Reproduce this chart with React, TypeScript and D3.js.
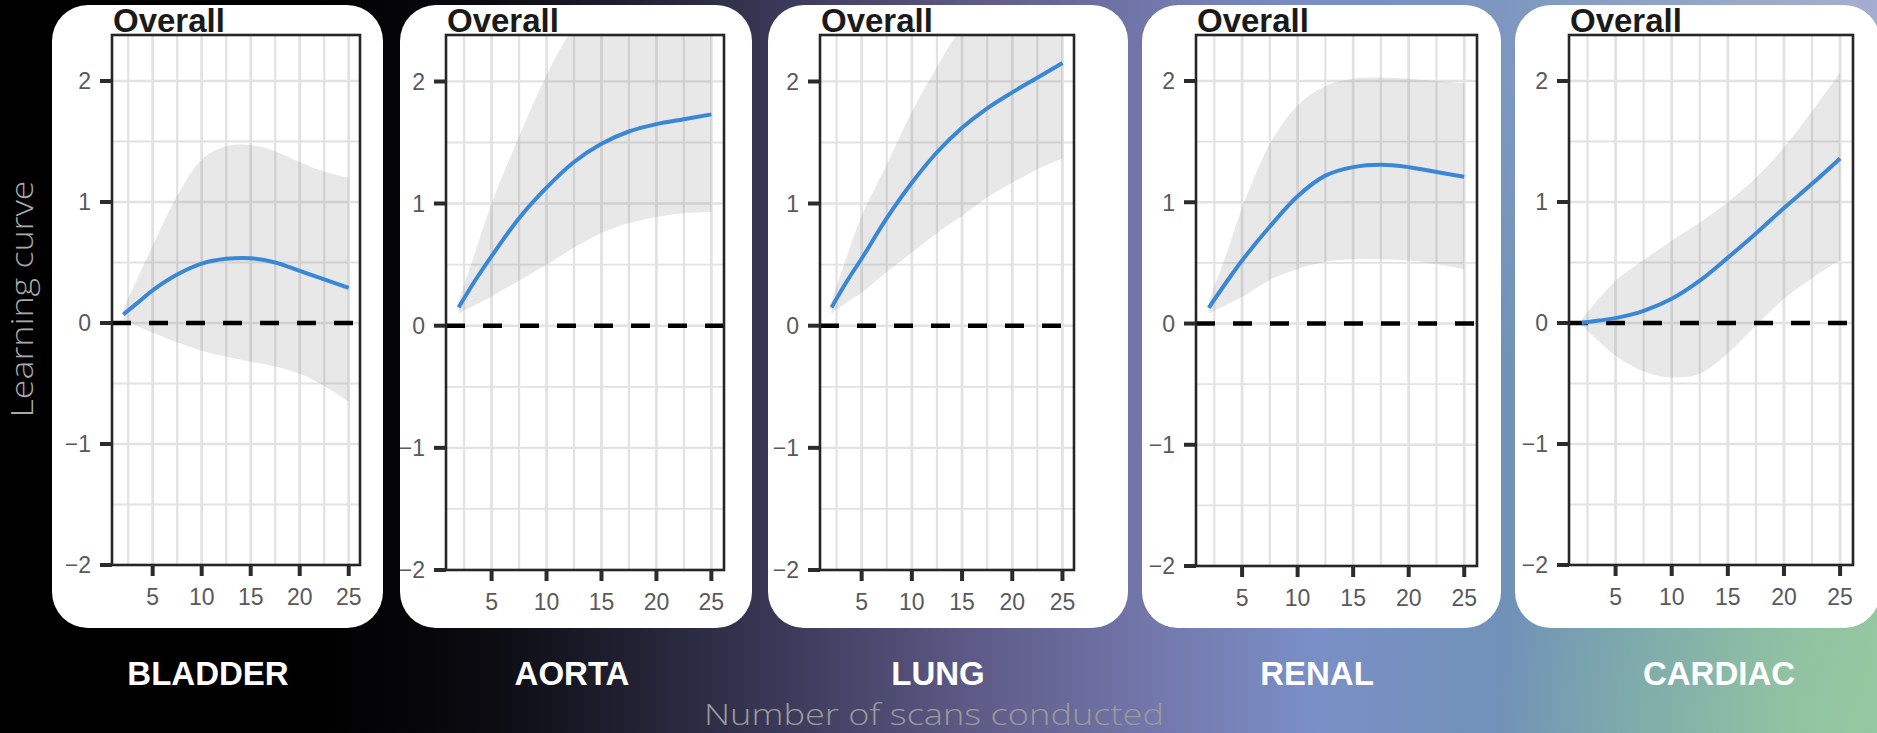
import React from "react";
import * as d3 from "d3";

// ---------- data ----------
const categories = ["BLADDER", "AORTA", "LUNG", "RENAL", "CARDIAC"];
const panelTitle = "Overall";
const xLabel = "Number of scans conducted";
const yLabel = "Learning curve";

const xKnots = [2, 3.5, 5, 7.5, 10, 12.5, 15, 17.5, 20, 22.5, 25];

const bladderFit = [0.07, 0.17, 0.27, 0.4, 0.49, 0.53, 0.535, 0.5, 0.43, 0.36, 0.29];
const bladderLower = [0.03, -0.03, -0.08, -0.16, -0.23, -0.28, -0.32, -0.36, -0.42, -0.52, -0.65];
const bladderUpper = [0.11, 0.38, 0.64, 1.05, 1.35, 1.46, 1.47, 1.42, 1.33, 1.25, 1.2];

const aortaFit = [0.15, 0.37, 0.57, 0.88, 1.13, 1.34, 1.49, 1.59, 1.65, 1.69, 1.73];
const aortaLower = [0.1, 0.17, 0.24, 0.37, 0.5, 0.64, 0.76, 0.84, 0.89, 0.92, 0.93];
const aortaUpper = [0.2, 0.6, 1.0, 1.55, 2.05, 2.45, 2.7, 2.85, 2.95, 3.0, 3.05];

const lungFit = [0.15, 0.36, 0.55, 0.88, 1.17, 1.42, 1.62, 1.78, 1.91, 2.03, 2.15];
const lungLower = [0.1, 0.19, 0.27, 0.44, 0.6, 0.76, 0.9, 1.05, 1.17, 1.28, 1.37];
const lungUpper = [0.2, 0.56, 0.9, 1.32, 1.75, 2.12, 2.45, 2.7, 2.88, 3.0, 3.1];

const renalFit = [0.13, 0.33, 0.52, 0.8, 1.05, 1.22, 1.29, 1.31, 1.29, 1.25, 1.21];
const renalLower = [0.08, 0.15, 0.22, 0.36, 0.45, 0.51, 0.53, 0.53, 0.52, 0.49, 0.45];
const renalUpper = [0.18, 0.55, 0.95, 1.48, 1.8, 1.96, 2.02, 2.03, 2.02, 2.0, 1.98];

const cardiacFit = [0.0, 0.02, 0.04, 0.1, 0.2, 0.35, 0.54, 0.74, 0.95, 1.15, 1.36];
const cardiacLower = [-0.02, -0.15, -0.27, -0.4, -0.45, -0.42, -0.25, -0.02, 0.2, 0.37, 0.52];
const cardiacUpper = [0.03, 0.2, 0.35, 0.52, 0.68, 0.83, 1.0, 1.2, 1.45, 1.75, 2.07];

const fits = [bladderFit, aortaFit, lungFit, renalFit, cardiacFit];
const lowers = [bladderLower, aortaLower, lungLower, renalLower, cardiacLower];
const uppers = [bladderUpper, aortaUpper, lungUpper, renalUpper, cardiacUpper];

const xTicks = [5, 10, 15, 20, 25];
const xMinor = [2.5, 7.5, 12.5, 17.5, 22.5];
const yTicks = [-2, -1, 0, 1, 2];
const yMinor = [-1.5, -0.5, 0.5, 1.5];
const xDomain = [0.85, 26.15];
const yDomain = [-2, 2.38];

// ---------- layout ----------
const W = 1877;
const H = 733;
const layout = [
  { card: [52, 383], plot: [112, 360, 35, 565], labelX: 208 },
  { card: [400, 752], plot: [446, 724, 35, 570], labelX: 572 },
  { card: [768, 1128], plot: [820, 1074, 35, 570], labelX: 938 },
  { card: [1142, 1501], plot: [1196, 1477, 35, 566], labelX: 1317 },
  { card: [1515, 1880], plot: [1569, 1853, 35, 565], labelX: 1719 },
];
const cardTop = 5;
const cardBottom = 628;
const cardR = 36;

function fmt(v: number) {
  return v < 0 ? "\u2212" + Math.abs(v) : String(v);
}

function Panel({ i }: { i: number }) {
  const L = layout[i];
  const [pl, pr, pt, pb] = L.plot;
  const x = d3.scaleLinear().domain(xDomain).range([pl, pr]);
  const y = d3.scaleLinear().domain(yDomain).range([pb, pt]);
  const pts = xKnots.map((k, j) => ({ x: k, f: fits[i][j], lo: lowers[i][j], hi: uppers[i][j] }));
  const curve = d3.curveCatmullRom.alpha(0.5);
  const area = d3
    .area<any>()
    .x((d) => x(d.x))
    .y0((d) => y(d.lo))
    .y1((d) => y(d.hi))
    .curve(curve);
  const line = d3
    .line<any>()
    .x((d) => x(d.x))
    .y((d) => y(d.f))
    .curve(curve);
  const clipCard = `card-${i}`;
  const clipPlot = `plot-${i}`;
  const gridCol = "#e2e2e2";
  const font = "'Liberation Sans', Arial, sans-serif";
  return (
    <g>
      <defs>
        <clipPath id={clipCard}>
          <rect x={L.card[0]} y={cardTop} width={L.card[1] - L.card[0]} height={cardBottom - cardTop} rx={cardR} ry={cardR} />
        </clipPath>
        <clipPath id={clipPlot}>
          <rect x={pl} y={pt} width={pr - pl} height={pb - pt} />
        </clipPath>
      </defs>
      <rect x={L.card[0]} y={cardTop} width={L.card[1] - L.card[0]} height={cardBottom - cardTop} rx={cardR} ry={cardR} fill="#ffffff" />
      <g clipPath={`url(#${clipCard})`}>
        <g clipPath={`url(#${clipPlot})`}>
          {yMinor.map((v) => (
            <line key={"ym" + v} x1={pl} x2={pr} y1={y(v)} y2={y(v)} stroke={gridCol} strokeWidth={1.8} />
          ))}
          {xMinor.map((v) => (
            <line key={"xm" + v} x1={x(v)} x2={x(v)} y1={pt} y2={pb} stroke={gridCol} strokeWidth={2.2} />
          ))}
          {yTicks.map((v) => (
            <line key={"yg" + v} x1={pl} x2={pr} y1={y(v)} y2={y(v)} stroke={gridCol} strokeWidth={2.4} />
          ))}
          {xTicks.map((v) => (
            <line key={"xg" + v} x1={x(v)} x2={x(v)} y1={pt} y2={pb} stroke={gridCol} strokeWidth={2.8} />
          ))}
          <path d={area(pts) || ""} fill="#8a8a8a" fillOpacity={0.2} />
          <line x1={pl} x2={pr} y1={y(0)} y2={y(0)} stroke="#000" strokeWidth={4.5} strokeDasharray="19 18" />
          <path d={line(pts) || ""} fill="none" stroke="#3a87d8" strokeWidth={4} />
        </g>
        <rect x={pl} y={pt} width={pr - pl} height={pb - pt} fill="none" stroke="#262626" strokeWidth={2.6} />
        {yTicks.map((v) => (
          <g key={"yt" + v}>
            <line x1={pl - 12} x2={pl} y1={y(v)} y2={y(v)} stroke="#2b2b2b" strokeWidth={4} />
            <text x={pl - 21} y={y(v)} dy="0.36em" textAnchor="end" fontFamily={font} fontSize={23} fill="#595959">
              {fmt(v)}
            </text>
          </g>
        ))}
        {xTicks.map((v) => (
          <g key={"xt" + v}>
            <line x1={x(v)} x2={x(v)} y1={pb} y2={pb + 11} stroke="#2b2b2b" strokeWidth={4} />
            <text x={x(v)} y={pb + 40} textAnchor="middle" fontFamily={font} fontSize={23} fill="#595959">
              {v}
            </text>
          </g>
        ))}
        <text x={pl + 1} y={pt - 3} fontFamily={font} fontWeight="bold" fontSize={33} fill="#1a1a1a">
          {panelTitle}
        </text>
      </g>
      <text x={L.labelX} y={685} textAnchor="middle" fontFamily={font} fontWeight="bold" fontSize={33} fill="#ffffff">
        {categories[i]}
      </text>
    </g>
  );
}

export default function App() {
  return (
    <svg width={W} height={H} style={{ position: "absolute", left: 0, top: 0, display: "block" }}>
      <defs>
        <linearGradient id="bg" x1="0" y1="0" x2="1" y2="0">
          <stop offset="0" stopColor="#000000" />
          <stop offset="0.17" stopColor="#000000" />
          <stop offset="0.26" stopColor="#0b0b11" />
          <stop offset="0.34" stopColor="#222235" />
          <stop offset="0.42" stopColor="#3c3a5a" />
          <stop offset="0.52" stopColor="#5e5b88" />
          <stop offset="0.62" stopColor="#7479ad" />
          <stop offset="0.70" stopColor="#7a8fc6" />
          <stop offset="0.80" stopColor="#7092b8" />
          <stop offset="0.90" stopColor="#78a2ae" />
          <stop offset="1" stopColor="#93c3a1" />
        </linearGradient>
        <radialGradient id="tr" cx="1877" cy="0" r="520" gradientUnits="userSpaceOnUse">
          <stop offset="0" stopColor="#a9a7de" stopOpacity={0.8} />
          <stop offset="1" stopColor="#a9a7de" stopOpacity={0} />
        </radialGradient>
        <radialGradient id="br" cx="1877" cy="733" r="380" gradientUnits="userSpaceOnUse">
          <stop offset="0" stopColor="#95c9a0" stopOpacity={0.9} />
          <stop offset="1" stopColor="#95c9a0" stopOpacity={0} />
        </radialGradient>
      </defs>
      <rect x={0} y={0} width={W} height={H} fill="url(#bg)" />
      <rect x={0} y={0} width={W} height={H} fill="url(#tr)" />
      <rect x={0} y={0} width={W} height={H} fill="url(#br)" />
      {categories.map((c, i) => (
        <Panel key={c} i={i} />
      ))}
      <text
        transform="translate(33,299) rotate(-90)"
        textAnchor="middle"
        fontFamily="'Open Sans', sans-serif"
        fontWeight={300}
        fontSize={31}
        fill="#a9a9a9"
        textLength={237}
        lengthAdjust="spacingAndGlyphs"
      >
        {yLabel}
      </text>
      <text
        x={934}
        y={725}
        textAnchor="middle"
        fontFamily="'Open Sans', sans-serif"
        fontWeight={300}
        fontSize={29}
        fill="#9a9a9a"
        textLength={460}
        lengthAdjust="spacingAndGlyphs"
      >
        {xLabel}
      </text>
    </svg>
  );
}
